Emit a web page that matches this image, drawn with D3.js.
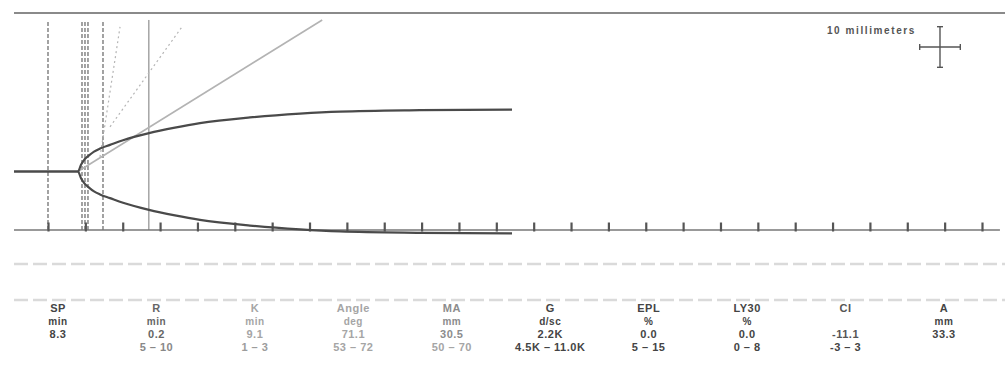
<!DOCTYPE html>
<html>
<head>
<meta charset="utf-8">
<script src="https://cdn.jsdelivr.net/npm/d3@7"></script>
<style>
  body { margin: 0; background: #fff; }
  svg { display: block; font-family: "Liberation Sans", Arial, sans-serif; }
</style>
</head>
<body>
<div id="chart"></div>
<script>
// trace: time (min) vs amplitude (mm)
const traceTime = [0.45, 9.01, 9.42, 9.82, 10.49, 11.16, 11.96, 13.3, 15.04, 18.52, 21.99, 25.34, 32.03, 38.73, 44.08, 54.78, 67.1];
const traceAmp  = [0,    0,    3.3,  5.6,  7.9,   9.8,   11.3,  13.1, 15.4,  18.9,  21.6,  23.8,  26.6,  28.5,  29.5,  30.2,  30.5];

// marker lines (min)
const dashedMarks = [5.0, 9.55, 9.95, 10.35, 12.36];
const solidMarks = [18.5];

// angle line and helper lines: [t0, d0, t1, d1] (min, mm deflection)
const angleLine = [9.0, 0, 41.7, 37.3];
const guideLines = [[11.96, 3.6, 14.64, 35.6], [13.3, 11.0, 22.93, 35.6]];

const tickTimes = d3.range(5, 135, 5);

// parameter table
const paramNames = ["SP", "R", "K", "Angle", "MA", "G", "EPL", "LY30", "CI", "A"];
const paramUnits = ["min", "min", "min", "deg", "mm", "d/sc", "%", "%", "", "mm"];
const paramValues = ["8.3", "0.2", "9.1", "71.1", "30.5", "2.2K", "0.0", "0.0", "-11.1", "33.3"];
const paramRanges = ["", "5 – 10", "1 – 3", "53 – 72", "50 – 70", "4.5K – 11.0K", "5 – 15", "0 – 8", "-3 – 3", ""];

const W = 1005, H = 391;
const svg = d3.select("#chart").append("svg").attr("width", W).attr("height", H);
svg.append("rect").attr("width", W).attr("height", H).attr("fill", "#fff");

const x = d3.scaleLinear().domain([0, 130]).range([10.64, 10.64 + 130 * 7.472]);
const y = d3.scaleLinear().domain([-14.4, 36.8]).range([230, 22]);
const baseY = y(-14.4);

// top rule
svg.append("line").attr("x1", 14).attr("x2", W).attr("y1", 13).attr("y2", 13)
  .attr("stroke", "#8a8a8a").attr("stroke-width", 2);

// marker lines
svg.selectAll(".dmark").data(dashedMarks).enter().append("line")
  .attr("x1", d => x(d)).attr("x2", d => x(d))
  .attr("y1", y(36.8)).attr("y2", baseY)
  .attr("stroke", "#666").attr("stroke-width", 1.2).attr("stroke-dasharray", "4,2");
svg.selectAll(".smark").data(solidMarks).enter().append("line")
  .attr("x1", d => x(d)).attr("x2", d => x(d))
  .attr("y1", y(37.3)).attr("y2", baseY)
  .attr("stroke", "#777").attr("stroke-width", 1);

// guides
svg.selectAll(".guide").data(guideLines).enter().append("line")
  .attr("x1", d => x(d[0])).attr("y1", d => y(d[1]))
  .attr("x2", d => x(d[2])).attr("y2", d => y(d[3]))
  .attr("stroke", "#b5b5b5").attr("stroke-width", 1.2).attr("stroke-dasharray", "2,3");

svg.append("line")
  .attr("x1", x(angleLine[0])).attr("y1", y(angleLine[1]))
  .attr("x2", x(angleLine[2])).attr("y2", y(angleLine[3]))
  .attr("stroke", "#b3b3b3").attr("stroke-width", 1.6);

// axis
svg.append("line").attr("x1", x(0.45)).attr("x2", x(132.4)).attr("y1", baseY).attr("y2", baseY)
  .attr("stroke", "#777").attr("stroke-width", 1.5);
const axis = svg.append("g").attr("transform", "translate(0," + (baseY + 1.5) + ")")
  .call(d3.axisBottom(x).tickValues(tickTimes).tickSize(-9).tickFormat(""));
axis.select(".domain").remove();
axis.selectAll(".tick line").attr("stroke", "#555").attr("stroke-width", 2.2);

// trace
const pts = traceTime.map((t, i) => ({t: t, a: traceAmp[i]}));
const upper = d3.line().x(d => x(d.t)).y(d => y(d.a / 2)).curve(d3.curveMonotoneX);
const lower = d3.line().x(d => x(d.t)).y(d => y(-d.a / 2)).curve(d3.curveMonotoneX);
svg.append("path").attr("d", upper(pts)).attr("fill", "none").attr("stroke", "#4a4a4a").attr("stroke-width", 2.2);
svg.append("path").attr("d", lower(pts)).attr("fill", "none").attr("stroke", "#4a4a4a").attr("stroke-width", 2.2);

// scale legend
const mm10 = y(10) - y(0);
const cx = 940, cy = 47;
svg.append("text").attr("x", 916).attr("y", 34).attr("text-anchor", "end")
  .attr("font-size", 10).attr("font-weight", "bold").attr("letter-spacing", 1.6)
  .attr("fill", "#555").text("10 millimeters");
const cross = svg.append("g").attr("stroke", "#555").attr("stroke-width", 1.4);
cross.append("line").attr("x1", cx).attr("x2", cx).attr("y1", cy + mm10 / 2).attr("y2", cy - mm10 / 2);
cross.append("line").attr("x1", cx - mm10 / 2).attr("x2", cx + mm10 / 2).attr("y1", cy).attr("y2", cy);
[[cx - 3, cx + 3, cy + mm10 / 2, cy + mm10 / 2], [cx - 3, cx + 3, cy - mm10 / 2, cy - mm10 / 2],
 [cx - mm10 / 2, cx - mm10 / 2, cy - 3, cy + 3], [cx + mm10 / 2, cx + mm10 / 2, cy - 3, cy + 3]]
  .forEach(c => cross.append("line").attr("x1", c[0]).attr("x2", c[1]).attr("y1", c[2]).attr("y2", c[3]));

// separator rows
[264, 300].forEach(yy => svg.append("line").attr("x1", 14).attr("x2", W).attr("y1", yy).attr("y2", yy)
  .attr("stroke", "#dadada").attr("stroke-width", 2.5).attr("stroke-dasharray", "14,5"));

// parameter table
const colX = d3.scalePoint().domain(paramNames).range([58, 944]);
const tone = {SP: "#444", R: "#666", K: "#a5a5a5", Angle: "#a5a5a5", MA: "#8c8c8c", G: "#444",
  EPL: "#444", LY30: "#444", CI: "#555", A: "#444"};
const rangeTone = {R: "#888", K: "#9c9c9c", Angle: "#a5a5a5", MA: "#a5a5a5"};
const cols = svg.selectAll(".col").data(paramNames).enter().append("g")
  .attr("transform", d => "translate(" + colX(d) + ",0)")
  .attr("text-anchor", "middle").attr("font-size", 11).attr("font-weight", "bold").attr("letter-spacing", 0.5);
cols.append("text").attr("y", 312).attr("fill", d => tone[d]).text(d => d);
cols.append("text").attr("y", 325).attr("font-size", 10).attr("fill", d => tone[d]).text((d, i) => paramUnits[i]);
cols.append("text").attr("y", 338).attr("fill", d => tone[d]).text((d, i) => paramValues[i]);
cols.append("text").attr("y", 351).attr("fill", d => rangeTone[d] || "#444").text((d, i) => paramRanges[i]);
</script>
</body>
</html>
